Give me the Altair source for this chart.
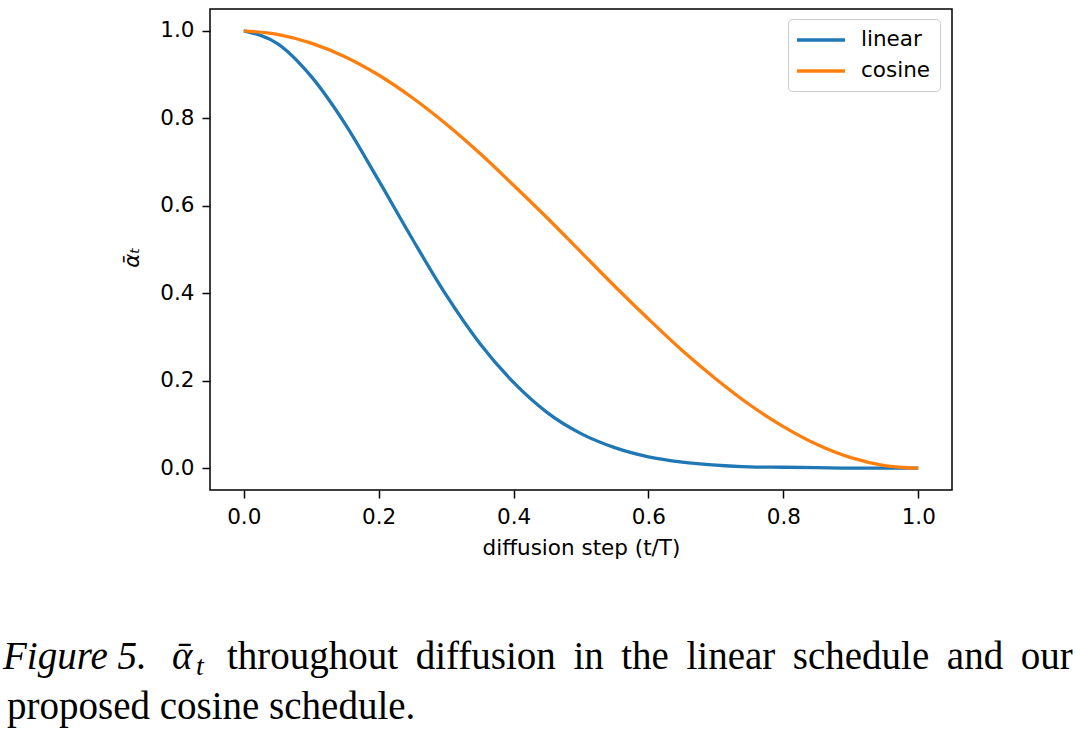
import altair as alt
import pandas as pd

# diffusion step t/T
steps = [0.00, 0.05, 0.10, 0.15, 0.20, 0.25, 0.30, 0.35, 0.40, 0.45, 0.50,
         0.55, 0.60, 0.65, 0.70, 0.75, 0.80, 0.85, 0.90, 0.95, 1.00]
# alpha-bar values
linear_vals = [1.000, 0.971, 0.896, 0.788, 0.658, 0.524, 0.396, 0.285, 0.196, 0.127, 0.079,
               0.047, 0.026, 0.014, 0.007, 0.003, 0.002, 0.001, 0.000, 0.000, 0.000]
cosine_vals = [1.000, 0.992, 0.972, 0.941, 0.899, 0.847, 0.787, 0.720, 0.647, 0.572, 0.494,
               0.416, 0.341, 0.269, 0.204, 0.145, 0.095, 0.054, 0.024, 0.006, 0.000]
series_names = ["linear", "cosine"]
series_colors = ["#1f77b4", "#ff7f0e"]
x_ticks = [0.0, 0.2, 0.4, 0.6, 0.8, 1.0]
y_ticks = [0.0, 0.2, 0.4, 0.6, 0.8, 1.0]

rows = []
for name, vals in zip(series_names, [linear_vals, cosine_vals]):
    for s, v in zip(steps, vals):
        rows.append({"t": s, "alpha": v, "schedule": name})
df = pd.DataFrame(rows)

FONT = "DejaVu Sans"
FS = 21.5

lines = alt.Chart(df).mark_line(strokeWidth=3.3, interpolate="monotone").encode(
    x=alt.X("t:Q",
            scale=alt.Scale(domain=[-0.05, 1.05], nice=False, zero=False),
            axis=alt.Axis(values=x_ticks, format=".1f", title="diffusion step (t/T)",
                          titleFont=FONT, titleFontSize=FS, titleFontWeight="normal",
                          titleColor="black", titleBaseline="top", titleY=47,
                          labelFont=FONT, labelFontSize=FS, labelColor="black",
                          labelPadding=8, tickSize=8, tickWidth=1.5, tickColor="black",
                          domain=False, grid=False, labelFlush=False)),
    y=alt.Y("alpha:Q",
            scale=alt.Scale(domain=[-0.05, 1.05], nice=False, zero=False),
            axis=alt.Axis(values=y_ticks, format=".1f", title="ᾱₜ",
                          titleFont=FONT, titleFontSize=FS, titleFontWeight="normal",
                          titleFontStyle="italic",
                          titleColor="black", titleAngle=270, titleX=-78, titleY=248,
                          titleAlign="center", titleBaseline="middle",
                          labelFont=FONT, labelFontSize=FS, labelColor="black",
                          labelPadding=8, tickSize=8, tickWidth=1.5, tickColor="black",
                          domain=False, grid=False, labelFlush=False)),
    color=alt.Color("schedule:N",
                    scale=alt.Scale(domain=series_names, range=series_colors),
                    sort=series_names,
                    legend=alt.Legend(orient="none", legendX=578, legendY=10, title=None,
                                      symbolType="M-1.2,0H3.6", symbolSize=400,
                                      symbolStrokeWidth=3.3, labelFont=FONT,
                                      labelFontSize=FS, labelColor="black",
                                      labelOffset=40, padding=9, strokeColor="#cccccc",
                                      fillColor="white", cornerRadius=4,
                                      rowPadding=8)),
)

SERIF = "Liberation Serif"
CFS = 39

def caption(text, x, y, size=CFS, style="normal"):
    return alt.Chart(pd.DataFrame({"c": [text]})).mark_text(
        font=SERIF, fontSize=size, fontStyle=style, align="left",
        baseline="alphabetic", color="black"
    ).encode(x=alt.value(x), y=alt.value(y), text="c:N")

SP = "\u2005\u2009"
cap = (
    caption("Figure 5.", -207, 660, style="italic")
    + caption("ᾱ", -38, 660, style="italic")
    + caption("t", -14, 666, size=28, style="italic")
    + caption(SP.join(["throughout", "diffusion", "in", "the", "linear", "schedule", "and", "our"]), 17, 660)
    + caption("proposed cosine schedule.", -203, 710)
)

chart = alt.layer(lines, cap).properties(
    width=742, height=481,
    autosize=alt.AutoSizeParams(type="none"),
    padding={"left": 210, "top": 9, "right": 128, "bottom": 244},
    background="white",
).configure_view(stroke="black", strokeWidth=1.5)

chart.save("out.html", embed_options={"renderer": "svg", "actions": False})
